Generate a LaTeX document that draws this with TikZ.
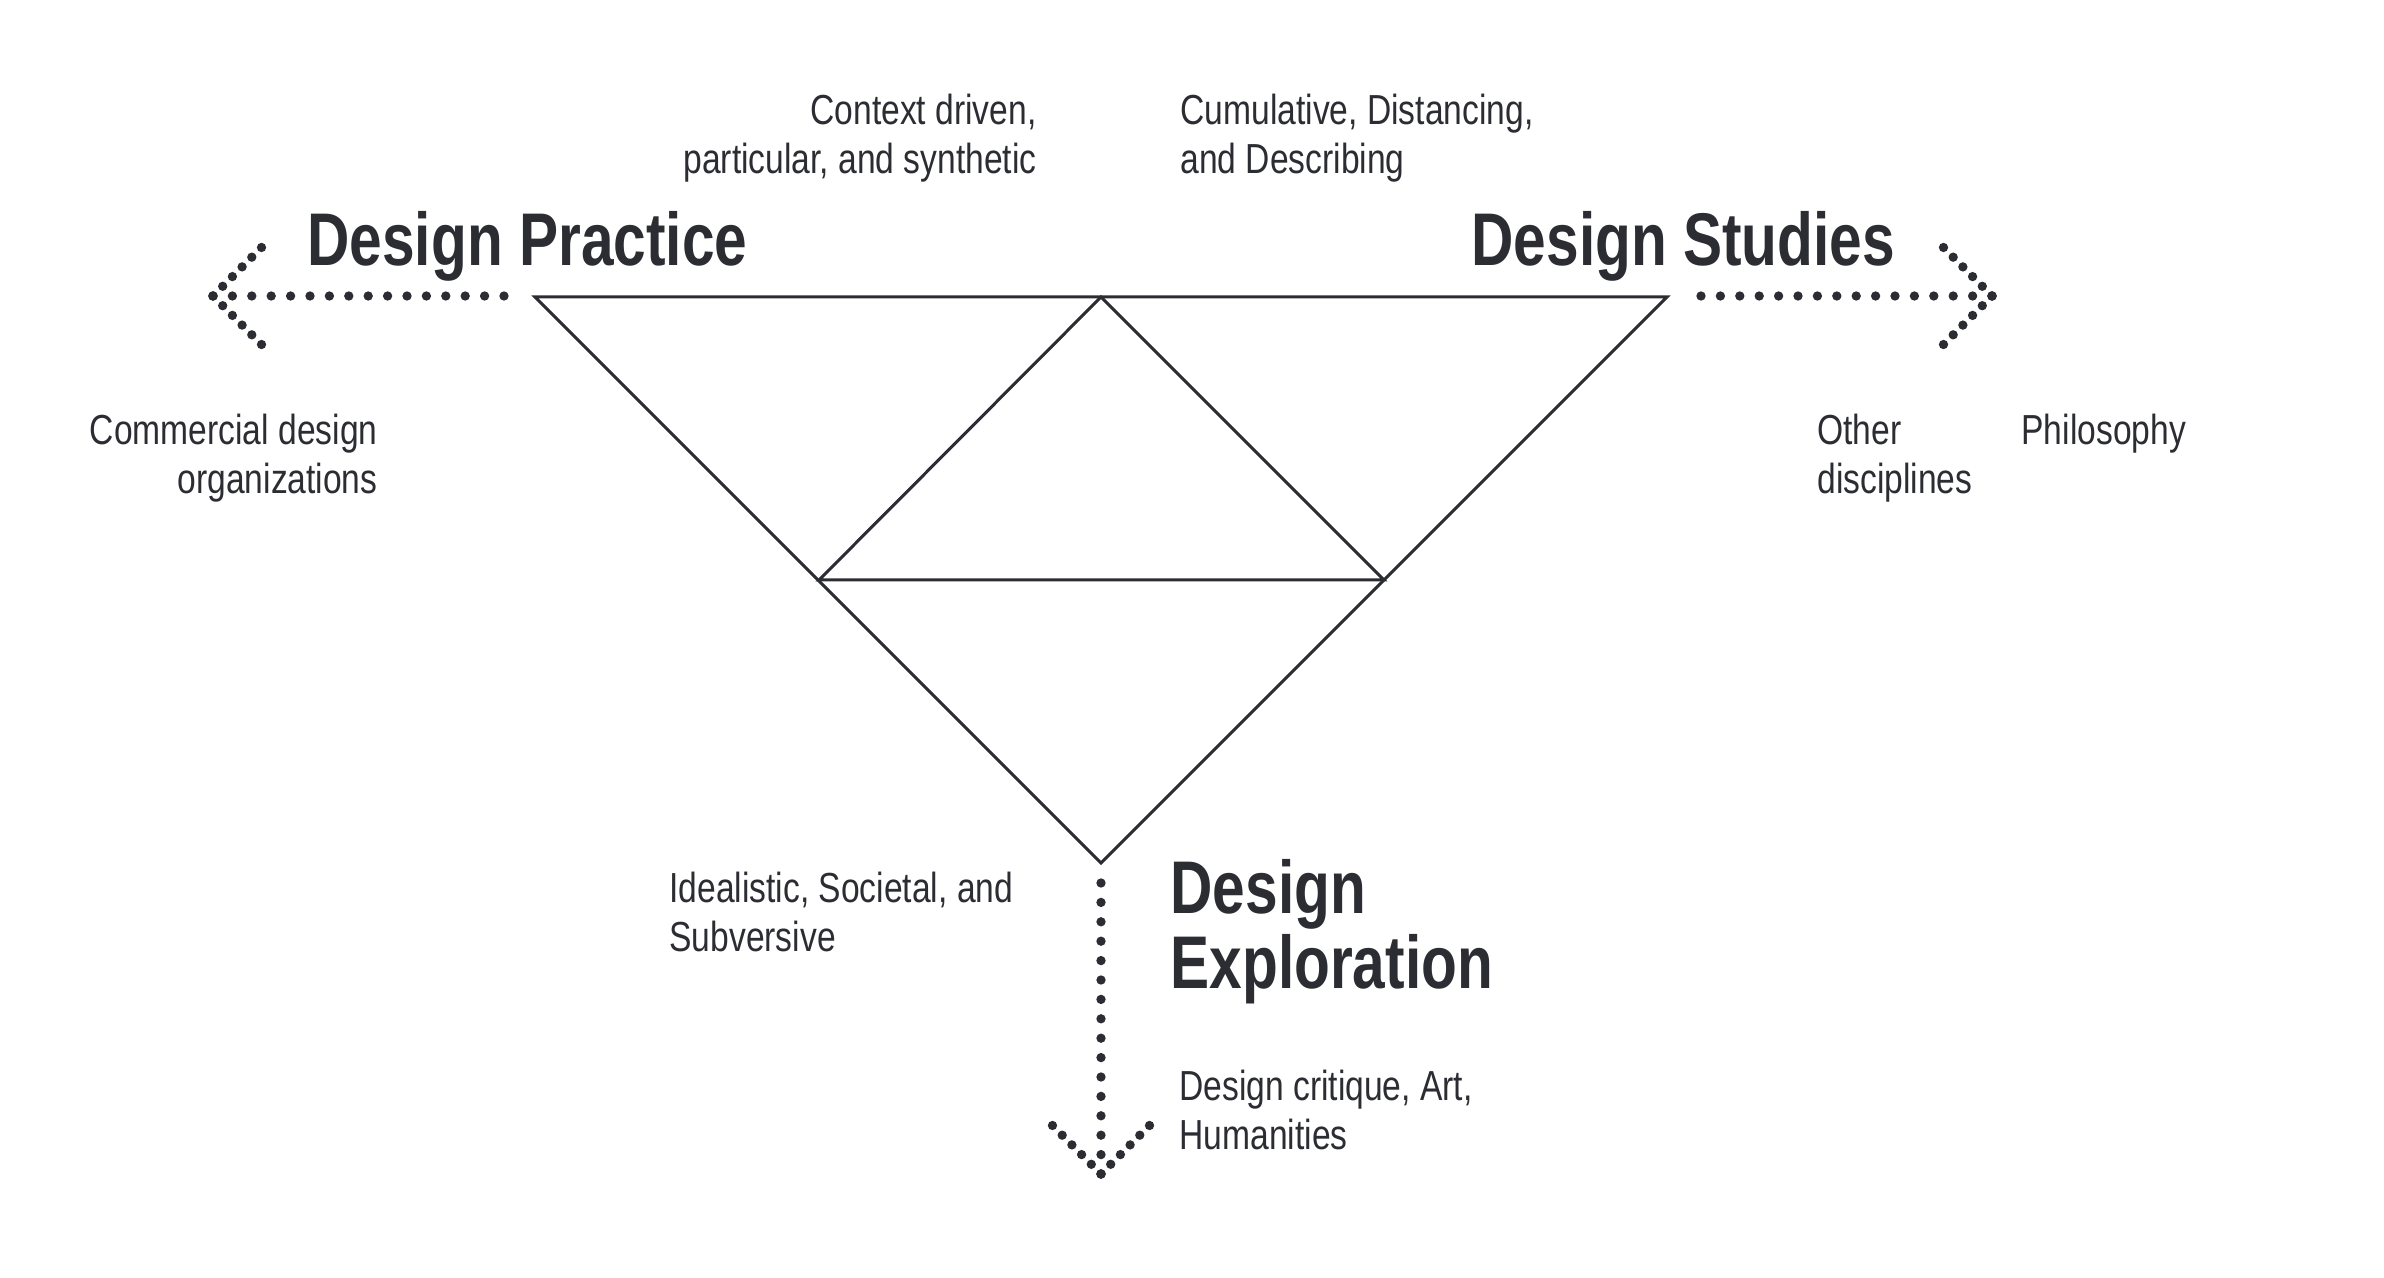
\documentclass[tikz,border=0pt]{standalone}
\usepackage{fontspec}
\setmainfont{Liberation Sans}[FakeStretch=0.80]
\newfontfamily\titlefont{Liberation Sans}[FakeStretch=0.785]
\usetikzlibrary{positioning}
\definecolor{ink}{HTML}{2B2D33}

\begin{document}
\begin{tikzpicture}[x=0.3pt,y=-0.3pt,color=ink,line width=0.9pt,
  small node/.style={font=\fontsize{12.6}{14.7}\selectfont,inner sep=0pt},
  big node/.style={font=\titlefont\fontsize{22.4}{22.5}\selectfont\bfseries,inner sep=0pt,align=left},
  dot line/.style={line width=2.8pt,line cap=round,dash pattern=on 0pt off 5.82pt},
  dot wing/.style={line width=2.8pt,line cap=round,dash pattern=on 0pt off 4.116pt}]

  \useasboundingbox (0,0) rectangle (2384,1278);

  % triangle corners
  \coordinate (tl) at (535,297);
  \coordinate (tr) at (1667,297);
  \coordinate (bt) at (1101,863);
  \coordinate (tm) at (1101,297);
  \coordinate (ml) at (819,580);
  \coordinate (mr) at (1384,580);

  \draw[line join=miter] (tl) -- (tr) -- (bt) -- cycle;
  \draw (ml) -- (tm) -- (mr) -- cycle;

  % dotted arrows
  \coordinate (lt) at (213,296);
  \coordinate (le) at (505,296);
  \coordinate (rt) at (1992,296);
  \coordinate (re) at (1700,296);
  \coordinate (dt) at (1101,1174);
  \coordinate (de) at (1101,882);

  \draw[dot line] (lt) -- (le);
  \draw[dot wing] (lt) -- ++(50,-50);
  \draw[dot wing] (lt) -- ++(50,50);
  \draw[dot line] (rt) -- (re);
  \draw[dot wing] (rt) -- ++(-50,-50);
  \draw[dot wing] (rt) -- ++(-50,50);
  \draw[dot line] (dt) -- (de);
  \draw[dot wing] (dt) -- ++(-50,-50);
  \draw[dot wing] (dt) -- ++(50,-50);

  % titles
  \node[big node,anchor=north west] (practice) at (306,210) {Design Practice};
  \node[big node,anchor=north west] (studies) at (1470,210) {Design Studies};
  \node[big node,anchor=north west] (exploration) at (1169,858) {Design\\Exploration};

  % notes
  \node[small node,align=right,anchor=north east] (context) at (1038,93)
    {Context driven,\\particular, and synthetic};
  \node[small node,align=left,anchor=north west] (cumulative) at (1179,93)
    {Cumulative, Distancing,\\and Describing};
  \node[small node,align=right,anchor=north east] (commercial) at (379,413)
    {Commercial design\\organizations};
  \node[small node,align=left,anchor=north west] (other) at (1816,413)
    {Other\\disciplines};
  \node[small node,align=left,anchor=north west] (philosophy) at (2020,413)
    {Philosophy};
  \node[small node,align=left,anchor=north west] (idealistic) at (668,871)
    {Idealistic, Societal, and\\Subversive};
  \node[small node,align=left,anchor=north west] (critique) at (1178,1069)
    {Design critique, Art,\\Humanities};
\end{tikzpicture}
\end{document}
